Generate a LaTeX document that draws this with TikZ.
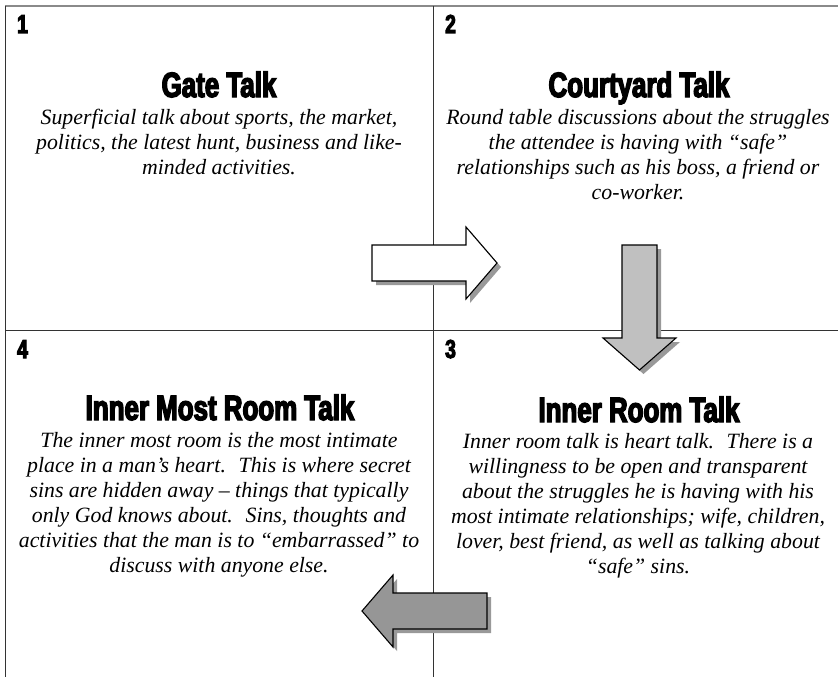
\documentclass[tikz,border=0pt]{standalone}
\usepackage{fontspec}
\setmainfont{Liberation Serif}
\newfontfamily\titlefont{Liberation Sans}[FakeStretch=0.74, BoldFeatures={FakeBold=4}]
\definecolor{framegray}{HTML}{333333}
\definecolor{topgray}{HTML}{8A8A8A}
\definecolor{shadowgray}{HTML}{999999}
\definecolor{lightfill}{HTML}{C0C0C0}
\definecolor{darkfill}{HTML}{969696}
\tikzset{
  frameline/.style={draw=framegray, line width=0.9pt},
  numlabel/.style={anchor=base west, inner sep=0pt, font=\titlefont\bfseries\fontsize{26}{28}\selectfont},
  titlelabel/.style={anchor=base, inner sep=0pt, font=\titlefont\bfseries\fontsize{35}{38}\selectfont},
  bodytext/.style={anchor=base, inner sep=0pt, align=center, font=\itshape\fontsize{21.8}{25}\selectfont},
  arrowshape/.style={draw=black, line width=1.1pt, line join=miter},
  arrowshadow/.style={fill=shadowgray, draw=none}
}
\begin{document}
\begin{tikzpicture}[x=1pt, y=-1pt]
\useasboundingbox (0,0) rectangle (838,677);
\fill[white] (0,0) rectangle (838,677);
% frame
\draw[draw=topgray, line width=1.6pt] (5,6) -- (838,6);
\draw[frameline] (5,6) -- (5,677);
\draw[frameline] (433,6) -- (433,677);
\draw[frameline] (5,330) -- (838,330);
% numbers
\node[numlabel] (n1) at (17,33) {1};
\node[numlabel] (n2) at (445,33) {2};
\node[numlabel] (n3) at (445,358) {3};
\node[numlabel] (n4) at (17,358) {4};
% titles
\node[titlelabel] (t1) at (219,97) {Gate Talk};
\node[titlelabel] (t2) at (639,97) {Courtyard Talk};
\node[titlelabel] (t3) at (639,422) {Inner Room Talk};
\node[titlelabel] (t4) at (220,420) {Inner Most Room Talk};
% body texts (base anchor = last line)
\node[bodytext] (b1) at (219,174) {Superficial talk about sports, the market,\\ politics, the latest hunt, business and like-\\ minded activities.};
\node[bodytext] (b2) at (638,199) {Round table discussions about the struggles\\ the attendee is having with “safe”\\ relationships such as his boss, a friend or\\ co-worker.};
\node[bodytext] (b3) at (638,573) {Inner room talk is heart talk.~ There is a\\ willingness to be open and transparent\\ about the struggles he is having with his\\ most intimate relationships; wife, children,\\ lover, best friend, as well as talking about\\ “safe” sins.};
\node[bodytext] (b4) at (219,572) {The inner most room is the most intimate\\ place in a man’s heart.~ This is where secret\\ sins are hidden away – things that typically\\ only God knows about.~ Sins, thoughts and\\ activities that the man is to “embarrassed” to\\ discuss with anyone else.};
% arrow 1 (right, white)
\begin{scope}[shift={(4,4)}]
\fill[arrowshadow] (372,245) -- (466,245) -- (466,227) -- (497,263) -- (466,299) -- (466,281) -- (372,281) -- cycle;
\end{scope}
\filldraw[arrowshape, fill=white] (372,245) -- (466,245) -- (466,227) -- (497,263) -- (466,299) -- (466,281) -- (372,281) -- cycle;
% arrow 2 (down, light gray)
\begin{scope}[shift={(4,4)}]
\fill[arrowshadow] (622,245) -- (657,245) -- (657,338) -- (676,338) -- (639.5,370) -- (603,338) -- (622,338) -- cycle;
\end{scope}
\filldraw[arrowshape, fill=lightfill] (622,245) -- (657,245) -- (657,338) -- (676,338) -- (639.5,370) -- (603,338) -- (622,338) -- cycle;
% arrow 3 (left, dark gray)
\begin{scope}[shift={(4,4)}]
\fill[arrowshadow] (487,593) -- (393,593) -- (393,575) -- (362,611) -- (393,647) -- (393,629) -- (487,629) -- cycle;
\end{scope}
\filldraw[arrowshape, fill=darkfill] (487,593) -- (393,593) -- (393,575) -- (362,611) -- (393,647) -- (393,629) -- (487,629) -- cycle;
\end{tikzpicture}
\end{document}
